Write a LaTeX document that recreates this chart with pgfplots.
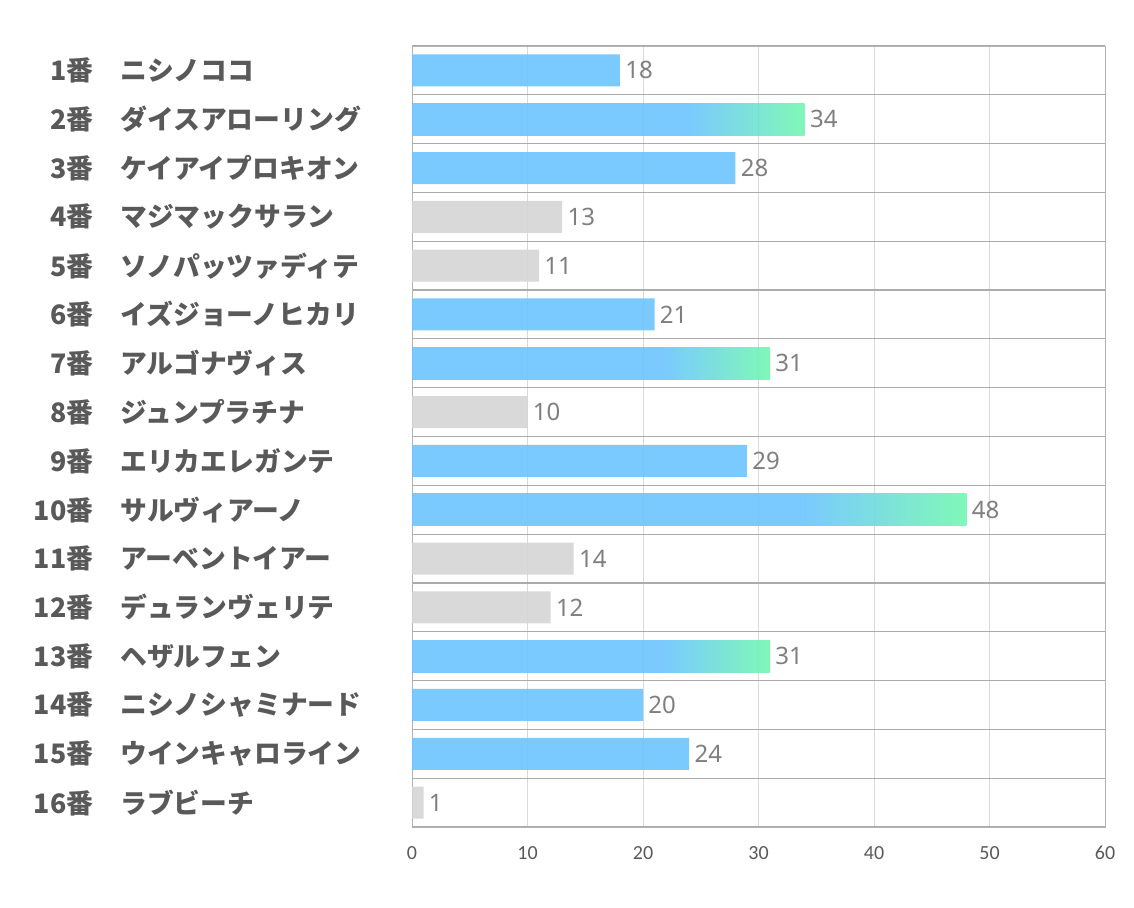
\documentclass[border=0pt]{standalone}
\usepackage{pgfplots}
\pgfplotsset{compat=1.18}
\usepackage{fontspec}
\setmainfont{Noto Sans}
\newfontfamily\jp{Noto Sans CJK JP}
\newfontfamily\carl{Carlito}
\definecolor{barblue}{RGB}{107,196,255}
\definecolor{bargreen}{RGB}{114,247,176}
\definecolor{bargray}{RGB}{213,213,213}
\definecolor{labgray}{RGB}{89,89,89}
\definecolor{valgray}{RGB}{127,127,127}
\pgfdeclarehorizontalshading{bluegreen}{100bp}{color(0bp)=(barblue); color(25bp)=(barblue); color(60bp)=(barblue); color(75bp)=(bargreen); color(100bp)=(bargreen)}
\newcommand{\lab}[2]{\makebox[26.5pt][r]{#1番}\hspace{13.5pt}#2}
\pgfplotsset{gradbar/.style={xbar, bar width=16pt, bar shift=0pt, draw=none, shading=bluegreen, fill opacity=0.9}}
\begin{document}
\begin{tikzpicture}
\useasboundingbox (0,0) rectangle (567pt,453.5pt);
\begin{axis}[
  at={(206pt,40pt)}, anchor=south west,
  scale only axis, width=346.5pt, height=390.5pt,
  xmin=0, xmax=60, ymin=0.5, ymax=16.5, y dir=reverse,
  enlargelimits=false, clip=false,
  /pgf/number format/assume math mode=true,
  xtick={0,10,...,60}, ytick={1,...,16},
  minor ytick={0.5,1.5,...,16.5},
  major tick length=0pt, minor tick length=0pt,
  xmajorgrids, yminorgrids,
  major x grid style={color=black!15, line width=0.5pt},
  minor y grid style={color=black!33, line width=0.6pt},
  axis line style={color=black!30, line width=0.5pt},
  xticklabel style={font=\carl\fontsize{10}{11}\selectfont, text=labgray, yshift=-6pt},
  yticklabel style={font=\jp\bfseries\fontsize{13.4}{15}\selectfont, text=labgray, anchor=west, inner sep=0pt, xshift=-186pt},
  yticklabels={{\lab{1}{ニシノココ}},{\lab{2}{ダイスアローリング}},{\lab{3}{ケイアイプロキオン}},{\lab{4}{マジマックサラン}},{\lab{5}{ソノパッツァディテ}},{\lab{6}{イズジョーノヒカリ}},{\lab{7}{アルゴナヴィス}},{\lab{8}{ジュンプラチナ}},{\lab{9}{エリカエレガンテ}},{\lab{10}{サルヴィアーノ}},{\lab{11}{アーベントイアー}},{\lab{12}{デュランヴェリテ}},{\lab{13}{ヘザルフェン}},{\lab{14}{ニシノシャミナード}},{\lab{15}{ウインキャロライン}},{\lab{16}{ラブビーチ}}},
  point meta=x,
  nodes near coords,
  every node near coord/.append style={font=\fontsize{12}{14}\selectfont, text=valgray, anchor=west, inner sep=2.5pt, text opacity=1},
]
\addplot[xbar, bar width=16pt, bar shift=0pt, draw=none, fill=barblue, fill opacity=0.9]
  coordinates {(18,1) (28,3) (21,6) (29,9) (20,14) (24,15)};
\addplot[gradbar] coordinates {(34,2)};
\addplot[gradbar] coordinates {(31,7)};
\addplot[gradbar] coordinates {(48,10)};
\addplot[gradbar] coordinates {(31,13)};
\addplot[xbar, bar width=16pt, bar shift=0pt, draw=none, fill=bargray, fill opacity=0.9]
  coordinates {(13,4) (11,5) (10,8) (14,11) (12,12) (1,16)};
\end{axis}
\end{tikzpicture}
\end{document}
